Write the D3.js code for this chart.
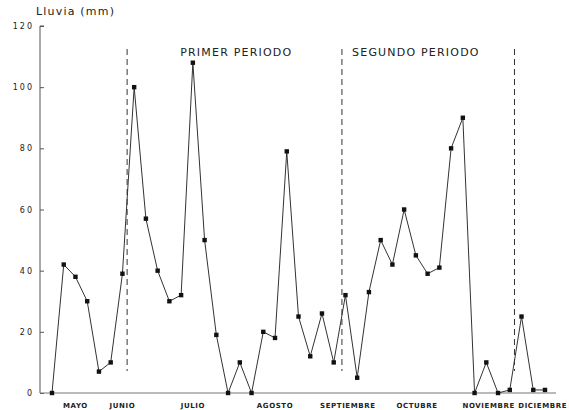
<!DOCTYPE html>
<html lang="es">
<head>
<meta charset="utf-8">
<title>Lluvia (mm)</title>
<script src="https://d3js.org/d3.v7.min.js"></script>
<style>
  body { margin: 0; background: #fff; }
  svg text { font-family: "DejaVu Sans", sans-serif; fill: #222; }
</style>
</head>
<body>
<svg id="chart" width="569" height="410"></svg>
<script>
// lluvia semanal (mm), mayo - diciembre
var lluvia = [0, 42, 38, 30, 7, 10, 39, 100, 57, 40, 30, 32, 108, 50, 19, 0, 10, 0,
              20, 18, 79, 25, 12, 26, 10, 32, 5, 33, 50, 42, 60, 45, 39, 41, 80, 90,
              0, 10, 0, 1, 25, 1, 1];
var meses = ['MAYO', 'JUNIO', 'JULIO', 'AGOSTO', 'SEPTIEMBRE', 'OCTUBRE', 'NOVIEMBRE', 'DICIEMBRE'];
var mesPos = [2, 6, 12, 19, 25.2, 31.1, 37.2, 41.8];
var cortes = [6.4, 24.7, 39.4];
var periodos = ['PRIMER PERIODO', 'SEGUNDO PERIODO'];
var periodoPos = [15.7, 31];
var yTicks = [0, 20, 40, 60, 80, 100, 120];

var svg = d3.select('#chart');

var x = d3.scaleLinear().domain([0, lluvia.length - 1]).range([52, 545]);
var y = d3.scaleLinear().domain([0, 120]).range([393, 26]);

// eje y
var yAxis = svg.append('g')
  .attr('transform', 'translate(40,0)')
  .call(d3.axisLeft(y).tickValues(yTicks).tickSize(-4).tickPadding(8));
yAxis.select('.domain').attr('stroke', '#555').attr('d', 'M0,' + y(0) + 'V' + y(120) + 'h4');
yAxis.selectAll('.tick line').attr('stroke', '#555');
yAxis.selectAll('.tick text')
  .style('font-size', '8px')
  .style('letter-spacing', '2px')
  .attr('x', -6);

// eje x
svg.append('line')
  .attr('x1', 40).attr('x2', 556)
  .attr('y1', y(0)).attr('y2', y(0))
  .attr('stroke', '#777').attr('stroke-width', 1.2);

svg.append('text')
  .attr('x', 36).attr('y', 15)
  .style('font-size', '11px')
  .style('letter-spacing', '1.2px')
  .text('Lluvia (mm)');

// meses
svg.append('g').selectAll('text')
  .data(meses)
  .enter()
  .append('text')
  .attr('x', function(d, i) { return x(mesPos[i]); })
  .attr('y', 408)
  .attr('text-anchor', 'middle')
  .style('font-size', '7px')
  .style('font-weight', 'bold')
  .style('letter-spacing', '0.6px')
  .text(function(d) { return d; });

// separaciones de periodos
svg.append('g').selectAll('line')
  .data(cortes)
  .enter()
  .append('line')
  .attr('x1', function(d) { return x(d); })
  .attr('x2', function(d) { return x(d); })
  .attr('y1', 49).attr('y2', 371)
  .attr('stroke', '#333')
  .attr('stroke-width', 1)
  .attr('stroke-dasharray', '6,4');

svg.append('g').selectAll('text')
  .data(periodos)
  .enter()
  .append('text')
  .attr('x', function(d, i) { return x(periodoPos[i]); })
  .attr('y', 56)
  .attr('text-anchor', 'middle')
  .style('font-size', '11px')
  .style('letter-spacing', '1.2px')
  .text(function(d) { return d; });

// serie
var line = d3.line()
  .x(function(d, i) { return x(i); })
  .y(function(d) { return y(d); });

svg.append('path')
  .datum(lluvia)
  .attr('d', line)
  .attr('fill', 'none')
  .attr('stroke', '#333')
  .attr('stroke-width', 1);

svg.append('g').selectAll('rect')
  .data(lluvia)
  .enter()
  .append('rect')
  .attr('x', function(d, i) { return x(i) - 2.2; })
  .attr('y', function(d) { return y(d) - 2.2; })
  .attr('width', 4.4)
  .attr('height', 4.4)
  .attr('fill', '#111');
</script>
</body>
</html>
